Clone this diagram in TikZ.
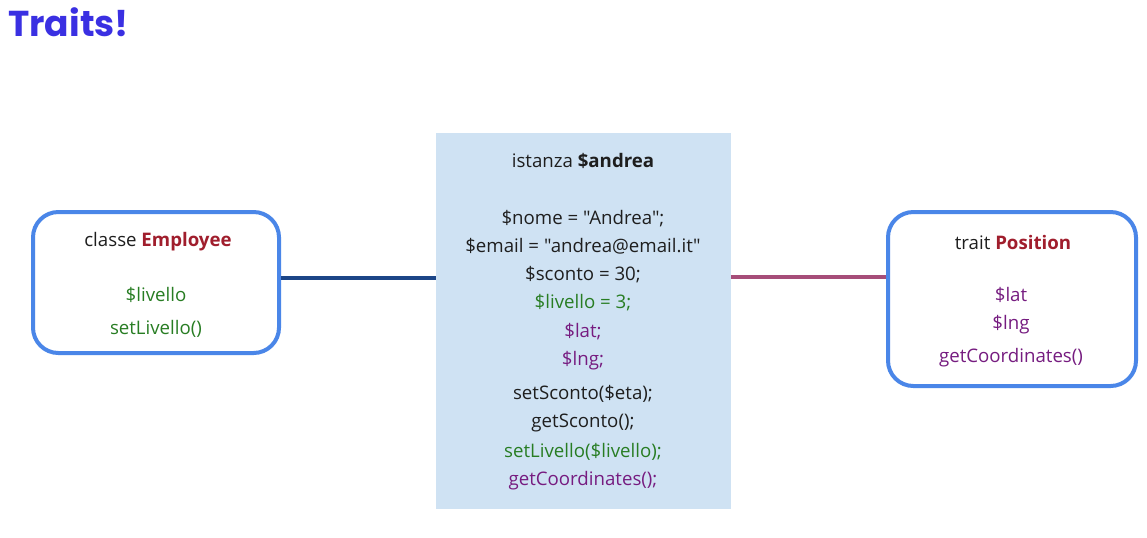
\documentclass[tikz,border=0pt]{standalone}
\usepackage{fontspec}
\setmainfont{Open Sans}[Ligatures=TeXOff]
\newfontfamily\titlefont{Poppins}
\usepackage{tikz}
\usetikzlibrary{positioning,calc}
\definecolor{trtitle}  {RGB}{58,48,226}
\definecolor{trborder} {RGB}{74,134,232}
\definecolor{trfill}   {RGB}{207,226,243}
\definecolor{trred}    {RGB}{160,30,45}
\definecolor{trgreen}  {RGB}{40,125,35}
\definecolor{trpurple} {RGB}{118,28,128}
\definecolor{trtext}   {RGB}{30,30,30}
\definecolor{trlinkcls}{RGB}{28,69,135}
\definecolor{trlinktr} {RGB}{166,77,121}
\tikzset{
  umlbox/.style={rectangle,rounded corners=19pt,draw=trborder,fill=white,
                 line width=3pt,minimum width=#1,inner sep=0pt},
  umlbox/.default=184.5pt,
  link/.style={line width=3pt,draw=#1},
  link/.default=trlinkcls,
}

\begin{document}
\begin{tikzpicture}[x=0.75pt,y=-0.75pt,
        every node/.style={font=\fontsize{14}{16}\selectfont,text=trtext},
        txt/.style={inner sep=0pt,anchor=center},
        inst/.style={rectangle,fill=trfill,minimum width=221.25pt,minimum height=282pt,inner sep=0pt}
      ]
        \useasboundingbox (0,0) rectangle (1147,537);

        % Title
        \node[font=\titlefont\bfseries\fontsize{27}{30}\selectfont,text=trtitle,anchor=west,inner sep=0pt]
          (title) at (8,22) {Traits!};

        % Class Employee
        \node[umlbox,minimum height=105.75pt] (employee) at (156,282.5) {};
        \node[txt] (emphead) at (158,242) {classe \textcolor{trred}{\bfseries Employee}};
        \node[txt,text=trgreen] (emplev) at (156,295) {\$livello};
        \node[txt,text=trgreen] (empset) at (156,329) {setLivello()};

        % Instance $andrea
        \node[inst] (andrea) at (583.5,321) {};
        \node[txt] (insthead) at (583,161) {istanza \textbf{\$andrea}};
        \node[txt] (l1)  at (583,219) {\$nome = "Andrea";};
        \node[txt] (l2)  at (583,246) {\$email = "andrea@email.it"};
        \node[txt] (l3)  at (583,275) {\$sconto = 30;};
        \node[txt,text=trgreen]  (l4)  at (583,303) {\$livello = 3;};
        \node[txt,text=trpurple] (l5)  at (583,332) {\$lat;};
        \node[txt,text=trpurple] (l6)  at (583,361) {\$lng;};
        \node[txt] (l7)  at (583,394) {setSconto(\$eta);};
        \node[txt] (l8)  at (583,423) {getSconto();};
        \node[txt,text=trgreen]  (l9)  at (583,452) {setLivello(\$livello);};
        \node[txt,text=trpurple] (l10) at (583,481) {getCoordinates();};

        % Trait Position
        \node[umlbox=186pt,minimum height=130.5pt] (position) at (1012,299) {};
        \node[txt] (poshead) at (1013,242) {trait \textcolor{trred}{\bfseries Position}};
        \node[txt,text=trpurple] (poslat) at (1011,295) {\$lat};
        \node[txt,text=trpurple] (poslng) at (1011,325) {\$lng};
        \node[txt,text=trpurple] (posget) at (1011,358) {getCoordinates()};

        % Connectors
        \draw[link] ([yshift=3.4pt]employee.east) -- ([yshift=3.4pt]employee.east -| andrea.west);
        \draw[link=trlinktr] ([yshift=16.5pt]position.west) -- ([yshift=16.5pt]position.west -| andrea.east);

      \end{tikzpicture}
\end{document}
